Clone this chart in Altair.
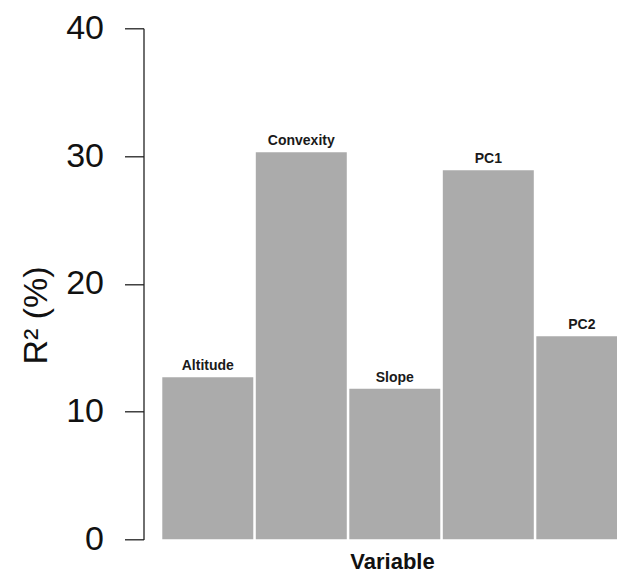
import altair as alt
import pandas as pd

variables = ["Altitude", "Convexity", "Slope", "PC1", "PC2"]
r2_values = [12.7, 30.3, 11.8, 28.9, 15.9]
y_ticks = [0, 10, 20, 30, 40]

df = pd.DataFrame({"Variable": variables, "R2": r2_values})

FONT = "Liberation Sans"

x_enc = alt.X(
    "Variable:N",
    sort=variables,
    scale=alt.Scale(range=[0, 483.8], paddingInner=0.027, paddingOuter=0.1005, align=1),
    axis=alt.Axis(
        labels=False, ticks=False, domain=False, grid=False,
        title="Variable", titleFont=FONT, titleFontSize=22, titleFontWeight="bold",
        titleColor="#111111", titleX=248.5, titleY=28.5,
        titleAlign="center", titleBaseline="alphabetic",
    ),
)

y_enc = alt.Y(
    "R2:Q",
    scale=alt.Scale(domain=[0, 40], nice=False, zero=True),
    axis=alt.Axis(
        values=y_ticks, grid=False, tickSize=19, tickWidth=1.3, tickColor="#222222",
        domainColor="#222222", domainWidth=1.3,
        labelFont=FONT, labelFontSize=34, labelColor="#111111", labelPadding=21,
        labelBaseline="middle",
        title="R² (%)", titleFont=FONT, titleFontSize=34, titleFontWeight="normal",
        titleColor="#111111", titleAngle=270, titleX=-96.6, titleY=286.7,
        titleAlign="center", titleBaseline="alphabetic",
    ),
)

base = alt.Chart(df).encode(x=x_enc, y=y_enc)

bars = base.mark_bar(color="#ababab", clip=True)

labels = base.mark_text(
    baseline="alphabetic", dy=-7, fontSize=14, fontWeight="bold",
    font=FONT, color="#1a1a1a",
).encode(text="Variable:N")

chart = (
    alt.layer(bars, labels)
    .properties(
        width=473.5,
        height=511.2,
        background="white",
        autosize=alt.AutoSizeParams(type="none"),
        padding={"left": 135.5, "top": 20.3, "right": 0, "bottom": 34.5},
    )
    .configure_view(stroke="transparent", strokeWidth=0)
    .configure_axis(grid=False)
)

chart.save("out.html", embed_options={"renderer": "svg", "actions": False})
